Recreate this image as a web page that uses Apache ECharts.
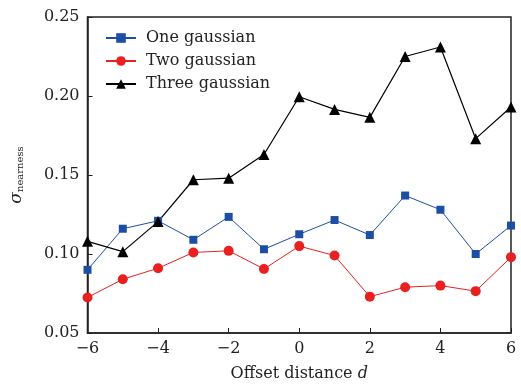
<!DOCTYPE html>
<html>
<head>
<meta charset="utf-8">
<script src="https://cdn.jsdelivr.net/npm/echarts@6/dist/echarts.min.js"></script>
<style>html,body{margin:0;padding:0;background:#fff}#c{width:521px;height:391px}</style>
</head>
<body>
<div id="c"></div>
<script>
var offsets = [-6, -5, -4, -3, -2, -1, 0, 1, 2, 3, 4, 5, 6];
var oneGaussian = [0.090, 0.116, 0.121, 0.109, 0.1235, 0.103, 0.1125, 0.1215, 0.112, 0.137, 0.128, 0.100, 0.118];
var twoGaussian = [0.0725, 0.084, 0.091, 0.101, 0.102, 0.0905, 0.105, 0.099, 0.073, 0.079, 0.080, 0.0765, 0.098];
var threeGaussian = [0.108, 0.1015, 0.1205, 0.147, 0.148, 0.163, 0.1995, 0.1915, 0.1865, 0.225, 0.231, 0.173, 0.193];
var seriesNames = ['One gaussian', 'Two gaussian', 'Three gaussian'];

function pairs(vals) { return offsets.map(function (x, i) { return [x, vals[i]]; }); }
var FONT = 'DejaVu Serif';
var chart = echarts.init(document.getElementById('c'), null, {renderer: 'canvas'});
chart.setOption({
  animation: false,
  backgroundColor: '#fff',
  grid: {left: 85, right: 10, top: 17, bottom: 58, show: true, borderColor: '#222', borderWidth: 1.5, backgroundColor: 'transparent'},
  legend: {
    orient: 'vertical', left: 100, top: 25,
    itemWidth: 30, itemHeight: 12, itemGap: 7,
    textStyle: {fontFamily: FONT, fontSize: 16, color: '#222', padding: [0, 0, 0, 5]},
    data: seriesNames
  },
  xAxis: {
    type: 'value', min: -6, max: 6, interval: 2,
    name: '{a|Offset distance }{d|d}', nameLocation: 'middle', nameGap: 33,
    nameTextStyle: {rich: {a: {fontFamily: FONT, fontSize: 16, color: '#222'}, d: {fontFamily: FONT, fontStyle: 'italic', fontSize: 16, color: '#222'}}},
    axisLine: {onZero: false, lineStyle: {color: '#222', width: 1.5}},
    axisTick: {inside: true, length: 5, lineStyle: {color: '#222'}},
    axisLabel: {fontFamily: FONT, fontSize: 16, color: '#222', margin: 8,
      formatter: function (v) { return v < 0 ? '\u2212' + Math.abs(v) : String(v); }},
    splitLine: {show: false}
  },
  yAxis: {
    type: 'value', min: 0.05, max: 0.25, interval: 0.05,
    name: '{s|\u03c3}{sub|nearness}', nameLocation: 'middle', nameGap: 62, nameRotate: 90,
    nameTextStyle: {rich: {s: {fontFamily: FONT, fontStyle: 'italic', fontSize: 17, color: '#222'}, sub: {fontFamily: FONT, fontSize: 10, color: '#222', verticalAlign: 'bottom', padding: [8, 0, 0, 0]}}},
    axisLine: {onZero: false, lineStyle: {color: '#222', width: 1.5}},
    axisTick: {inside: true, length: 5, lineStyle: {color: '#222'}},
    axisLabel: {fontFamily: FONT, fontSize: 16, color: '#222', margin: 8,
      formatter: function (v) { return v.toFixed(2); }},
    splitLine: {show: false}
  },
  series: [
    {name: seriesNames[0], type: 'line', data: pairs(oneGaussian), symbol: 'rect', symbolSize: 8,
      lineStyle: {color: '#1c4fa3', width: 1}, itemStyle: {color: '#1c4fa3'}},
    {name: seriesNames[1], type: 'line', data: pairs(twoGaussian), symbol: 'circle', symbolSize: 10,
      lineStyle: {color: '#e8201f', width: 1}, itemStyle: {color: '#e8201f'}},
    {name: seriesNames[2], type: 'line', data: pairs(threeGaussian), symbol: 'triangle', symbolSize: 11,
      lineStyle: {color: '#000', width: 1.2}, itemStyle: {color: '#000'}}
  ]
});
</script>
</body>
</html>
